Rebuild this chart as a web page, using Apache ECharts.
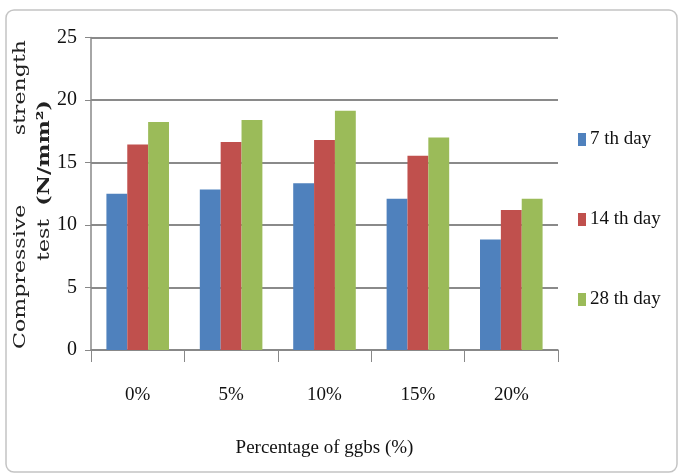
<!DOCTYPE html>
<html>
<head>
<meta charset="utf-8">
<script src="https://cdn.jsdelivr.net/npm/echarts@6/dist/echarts.min.js"></script>
<style>
  html, body { margin: 0; padding: 0; background: #fff; }
  #chart { width: 681px; height: 475px; }
</style>
</head>
<body>
<div id="chart"></div>
<script>
// ggbs replacement levels
const categories = ['0%', '5%', '10%', '15%', '20%'];
const day7 = [12.5, 12.85, 13.35, 12.1, 8.85];
const day14 = [16.45, 16.65, 16.8, 15.55, 11.2];
const day28 = [18.25, 18.4, 19.15, 17.0, 12.1];
const seriesNames = ['7 th day', '14 th day', '28 th day'];
const yTicks = [0, 5, 10, 15, 20, 25];

const serif = 'Liberation Serif';
const titleFont = '17px "DejaVu Serif"';
const chart = echarts.init(document.getElementById('chart'));

// vertical y-axis title pieces, stretched along the text like the justified original
const vText = (text, x, y, align, font) => ({
  type: 'text', x: x, y: y, rotation: Math.PI / 2, scaleX: 1.3,
  style: { text: text, font: font || titleFont, fill: '#222', align: align, verticalAlign: 'middle' },
  silent: true
});

const option = {
  animation: false,
  color: ['#4F81BD', '#C0504D', '#9BBB59'],
  grid: { left: 91, right: 123, top: 37.5, bottom: 125 },
  legend: {
    orient: 'vertical',
    left: 573,
    top: 125,
    itemWidth: 8,
    itemHeight: 13,
    itemGap: 61,
    icon: 'rect',
    textStyle: { fontFamily: serif, fontSize: 19, color: '#111', padding: [0, 0, 0, -1] },
    data: seriesNames
  },
  xAxis: {
    type: 'category',
    data: categories,
    name: 'Percentage of ggbs (%)',
    nameLocation: 'middle',
    nameGap: 89,
    nameTextStyle: { fontFamily: serif, fontSize: 19, color: '#111' },
    axisLine: { lineStyle: { color: '#888', width: 1.5 } },
    axisTick: { show: true, length: 12, lineStyle: { color: '#888' } },
    axisLabel: { fontFamily: serif, fontSize: 19, color: '#111', margin: 36 }
  },
  yAxis: {
    type: 'value',
    min: yTicks[0],
    max: yTicks[yTicks.length - 1],
    interval: 5,
    axisLine: { show: true, lineStyle: { color: '#888', width: 1.5 } },
    axisTick: { show: true, length: 6, lineStyle: { color: '#888' } },
    axisLabel: { fontFamily: serif, fontSize: 20, color: '#111', margin: 14 },
    splitLine: { lineStyle: { color: '#8a8a8a', width: 2 } }
  },
  graphic: [
    {
      type: 'rect',
      shape: { x: 6, y: 10, width: 671, height: 462, r: 8 },
      style: { fill: 'none', stroke: '#c4c4c4', lineWidth: 1.5 },
      silent: true
    },
    vText('Compressive', 21, 349, 'left'),
    vText('strength', 21, 40, 'right'),
    vText('test', 45, 261, 'left'),
    vText('(N/mm²)', 45, 100, 'right', 'bold 17px "DejaVu Serif"')
  ],
  series: [
    { name: seriesNames[0], type: 'bar', data: day7, barGap: '0%', barCategoryGap: '33%' },
    { name: seriesNames[1], type: 'bar', data: day14, barGap: '0%', barCategoryGap: '33%' },
    { name: seriesNames[2], type: 'bar', data: day28, barGap: '0%', barCategoryGap: '33%' }
  ]
};
chart.setOption(option);
</script>
</body>
</html>
